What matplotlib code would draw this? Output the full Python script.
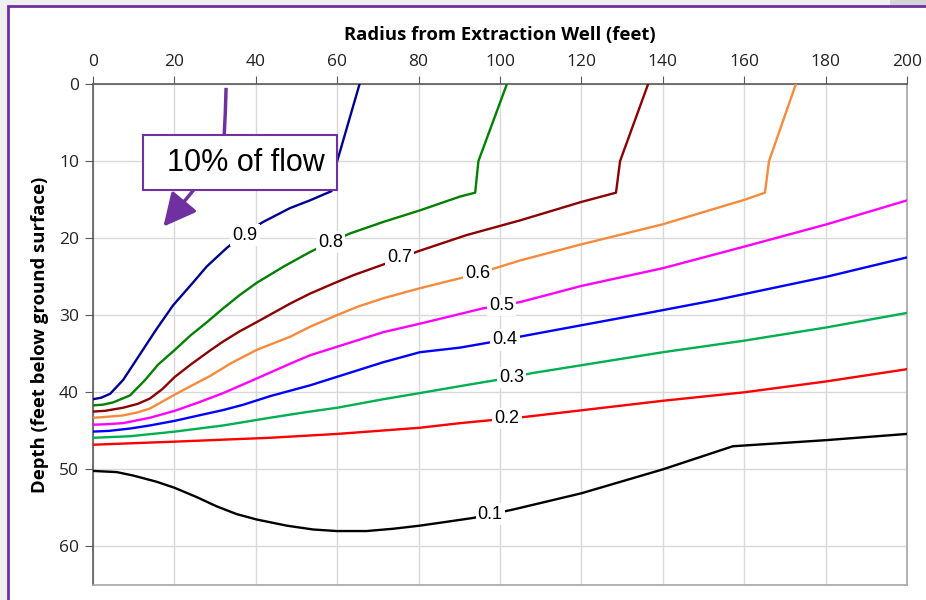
import matplotlib
matplotlib.use("Agg")
import matplotlib.pyplot as plt
from matplotlib.patches import Rectangle

# contour lines: radius (ft) vs depth (ft) for each fraction of flow
x_09 = [0, 2, 4.2, 7.4, 11.5, 15.6, 19.7, 25, 27.9, 32.8, 37, 41.8, 48.4, 53.3, 58.6, 60, 65.5]
y_09 = [40.9, 40.7, 40.2, 38.4, 35.1, 31.8, 28.7, 25.5, 23.7, 21.3, 19.5, 17.9, 16.1, 15.1, 13.9, 10, 0]

x_08 = [0, 2.5, 5, 9.1, 12.8, 16, 20.1, 24, 28, 32, 36, 40.2, 46.8, 53.3, 58.4, 63.1, 71.3, 80.3,
        90.2, 93.9, 94.7, 101.7]
y_08 = [41.7, 41.6, 41.3, 40.4, 38.4, 36.4, 34.5, 32.6, 30.9, 29.1, 27.4, 25.8, 23.7, 21.8, 20.5, 19.4,
        17.9, 16.4, 14.6, 14.1, 10, 0]

x_07 = [0, 3, 7.4, 11, 14, 17, 20.1, 24, 28.7, 32, 36, 40.2, 48.4, 53.3, 59, 64, 70.9, 79.9, 91.8,
        104.9, 120, 128.5, 129.5, 136.4]
y_07 = [42.5, 42.4, 42.0, 41.5, 40.8, 39.6, 38.0, 36.4, 34.6, 33.4, 32.1, 30.9, 28.5, 27.2, 25.9, 24.8,
        23.5, 21.7, 19.6, 17.7, 15.3, 14.1, 10, 0]

x_06 = [0, 3, 7.4, 11, 14, 20.1, 24, 28.7, 34, 40.2, 48.4, 53.3, 59.9, 65, 71.3, 80.3, 90.2, 98.8,
        104.9, 120, 140, 160.2, 165.1, 166.1, 172.7]
y_06 = [43.3, 43.2, 43.0, 42.6, 42.1, 40.3, 39.2, 37.9, 36.2, 34.5, 32.8, 31.5, 30, 28.9, 27.8, 26.5,
        25.2, 23.9, 22.9, 20.8, 18.2, 15, 14.1, 10, 0]

x_05 = [0, 3, 7.4, 14, 20.1, 26, 32, 39.4, 48.4, 53.3, 59.9, 71.3, 80.3, 95.9, 104.9, 120, 140, 160,
        180.3, 200]
y_05 = [44.2, 44.15, 44.0, 43.3, 42.4, 41.3, 40.1, 38.4, 36.3, 35.2, 34.1, 32.2, 31.1, 29.1, 28.3, 26.2,
        23.9, 21.1, 18.2, 15.1]

x_04 = [0, 4, 9.1, 14, 20.1, 26, 32, 37, 43.5, 53.3, 59.9, 71.3, 80.3, 90.2, 96.7, 105.7, 120, 136.4,
        153.3, 180.3, 200]
y_04 = [45.1, 45.0, 44.7, 44.3, 43.7, 43.0, 42.3, 41.6, 40.5, 39.1, 38, 36.1, 34.8, 34.2, 33.6, 32.7,
        31.3, 29.7, 28, 25, 22.5]

x_03 = [0, 9.1, 20.1, 32, 43.5, 52, 60, 71.3, 80.3, 90.2, 99.2, 108, 140, 160, 180, 200]
y_03 = [45.9, 45.7, 45.1, 44.3, 43.3, 42.6, 42, 40.9, 40.1, 39.2, 38.4, 37.5, 34.8, 33.3, 31.6, 29.7]

x_02 = [0, 20.1, 43.5, 60, 80.3, 90.2, 106, 140, 160, 180, 200]
y_02 = [46.8, 46.4, 45.9, 45.4, 44.6, 44, 43.2, 41.1, 40, 38.6, 37]

x_01 = [0, 5.8, 9.9, 15.6, 20.1, 25.5, 30.4, 35.3, 40.2, 47.6, 54.1, 59.9, 67.2, 73.8, 80.3, 86.9,
        93.4, 103.3, 120, 140, 157.2, 180.3, 200]
y_01 = [50.2, 50.35, 50.8, 51.6, 52.4, 53.6, 54.8, 55.8, 56.5, 57.3, 57.8, 58, 58, 57.7, 57.3, 56.8,
        56.3, 55.2, 53.1, 50, 47, 46.2, 45.4]

levels = ["0.9", "0.8", "0.7", "0.6", "0.5", "0.4", "0.3", "0.2", "0.1"]
label_x = [37.3, 58.4, 75.4, 94.5, 100.4, 101.2, 102.8, 101.7, 97.6]
label_y = [19.6, 20.5, 22.5, 24.6, 28.7, 33.2, 38.1, 43.4, 55.8]

xs = [x_09, x_08, x_07, x_06, x_05, x_04, x_03, x_02, x_01]
ys = [y_09, y_08, y_07, y_06, y_05, y_04, y_03, y_02, y_01]
colors = ["#000090", "#008000", "#8B0000", "#F58A3C", "#FF00FF",
          "#0000FF", "#00B050", "#FF0000", "#000000"]

purple = "#7030A0"
tick_font = "Open Sans"

fig = plt.figure(figsize=(9.26, 6.0), dpi=100, facecolor="#f0f0f0")
fig.patches.append(Rectangle((7.5 / 926, -0.1), 1.0, 1.1 - 6 / 600, transform=fig.transFigure,
                             facecolor="white", edgecolor=purple, lw=2, zorder=-2))
fig.patches.append(Rectangle((890 / 926, 1 - 5 / 600), 0.1, 0.1, transform=fig.transFigure,
                             facecolor="#d4d4d4", edgecolor="none", zorder=-1))

ax = fig.add_axes([93 / 926, 15 / 600, 814 / 926, 501 / 600])
ax.set_facecolor("white")

for x, y, c in zip(xs, ys, colors):
    ax.plot(x, y, color=c, lw=1.7, zorder=3, solid_joinstyle="round")

for lab, lx, ly in zip(levels, label_x, label_y):
    ax.text(lx, ly, lab, ha="center", va="center", fontsize=13, family="Liberation Sans",
            zorder=4, bbox=dict(boxstyle="square,pad=0.12", fc="white", ec="none"))

# callout
ax.plot([32.7, 32.5, 32.2], [0.5, 3.8, 7.0], color=purple, lw=2.5, zorder=4,
        solid_capstyle="butt")
ax.annotate("", xy=(17.3, 18.5), xytext=(25.6, 13.2),
            arrowprops=dict(arrowstyle="-|>,head_length=1.0,head_width=0.5", color=purple,
                            lw=2.5, mutation_scale=20, shrinkA=0, shrinkB=0), zorder=4)
ax.add_patch(Rectangle((12.2, 6.6), 47.7, 7.1, facecolor="white", edgecolor=purple,
                       lw=1.5, zorder=5))
ax.text(37.5, 10.3, "10% of flow", ha="center", va="center", fontsize=22,
        family="Liberation Sans", zorder=6)

ax.set_xlim(0, 200)
ax.set_ylim(65, 0)
ax.set_xticks(range(0, 201, 20))
ax.set_yticks(range(0, 61, 10))
ax.xaxis.tick_top()
ax.xaxis.set_label_position("top")
ax.grid(True, color="#d9d9d9", lw=1, zorder=0)
ax.set_axisbelow(True)

for s in ["top", "left"]:
    ax.spines[s].set_color("#595959")
for s in ["bottom", "right"]:
    ax.spines[s].set_color("#a6a6a6")
for s in ax.spines.values():
    s.set_linewidth(1.2)

ax.tick_params(axis="both", length=6, color="#595959", labelsize=12.5, labelcolor="#222222", pad=4)
for t in ax.get_xticklabels() + ax.get_yticklabels():
    t.set_family(tick_font)

ax.set_xlabel("Radius from Extraction Well (feet)", fontsize=13.3, fontweight="bold",
              family=tick_font, labelpad=10)
ax.set_ylabel("Depth (feet below ground surface)", fontsize=13.3, fontweight="bold",
              family=tick_font, labelpad=7)

fig.savefig("out.png", dpi=100, facecolor=fig.get_facecolor())
